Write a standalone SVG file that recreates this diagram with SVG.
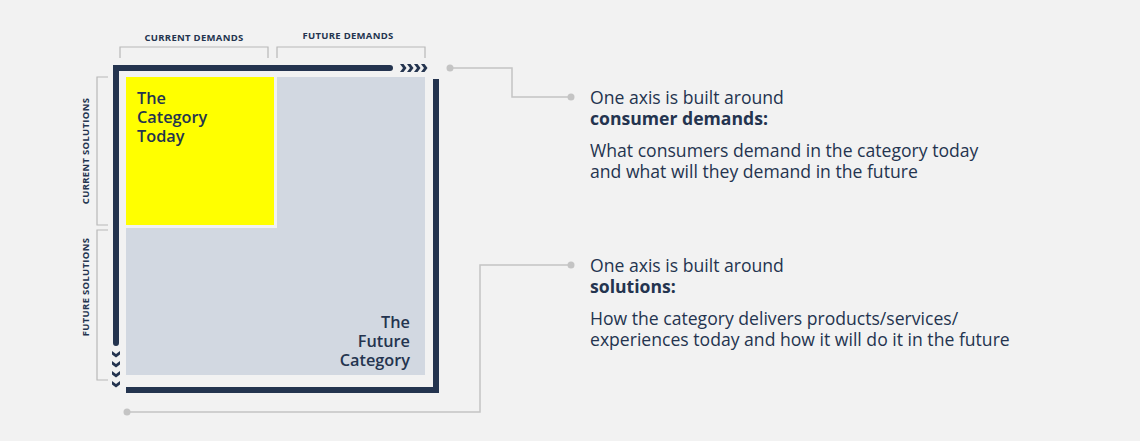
<svg xmlns="http://www.w3.org/2000/svg" width="1140" height="441" viewBox="0 0 1140 441">
<style>
text{font-family:"Open Sans","Noto Sans",sans-serif;fill:#24344f}
.lab{font-size:9.5px;font-weight:700;letter-spacing:0.3px}
.big{font-size:16.3px;font-weight:600}
.t{font-size:17.6px}
.b{font-size:17.6px;font-weight:700}
.br{fill:none;stroke:#b8b8b8;stroke-width:1.2}
.bar{fill:#24344f}
.con{fill:none;stroke:#c4c4c4;stroke-width:1.5}
.dot{fill:#c4c4c4}
</style>
<defs><path id="chr" d="M0,-4 L3.5,-4 L6.5,0 L3.5,4 L0,4 L3,0 Z" fill="#24344f"/><path id="chd" d="M-4,0 L-4,3.5 L0,6.5 L4,3.5 L4,0 L0,3 Z" fill="#24344f"/></defs>
<rect width="1140" height="441" fill="#f2f2f2"/>
<g id="matrix">
<rect x="126" y="77" width="299" height="298" fill="#d2d8e1"/>
<rect x="124.5" y="75.5" width="151" height="151" fill="#ffff00" stroke="#f2f2f2" stroke-width="3"/>
<text class="big" x="137" y="104">The</text>
<text class="big" x="137" y="123">Category</text>
<text class="big" x="137" y="142">Today</text>
<text class="big" x="410" y="328" text-anchor="end">The</text>
<text class="big" x="410" y="347" text-anchor="end">Future</text>
<text class="big" x="410" y="366" text-anchor="end">Category</text>
</g>
<g id="axes">
<path class="bar" d="M113,65 H390 a3,3 0 0 1 0,6 H119 V343 a3,3 0 0 1 -6,0 Z"/>
<use href="#chr" x="400" y="68"/><use href="#chr" x="407" y="68"/><use href="#chr" x="414" y="68"/><use href="#chr" x="421" y="68"/>
<use href="#chd" x="116" y="351"/><use href="#chd" x="116" y="361"/><use href="#chd" x="116" y="371"/><use href="#chd" x="116" y="381"/>
<path class="bar" d="M433,79 H439 V393 H126 V387 H433 Z"/>
</g>
<g id="labels">
<path class="br" d="M120,58 V47 H268 V58 M277,58 V47 H425 V58 M108,77 H97 V225 H108 M108,230 H97 V380 H108"/>
<text class="lab" x="194" y="41" text-anchor="middle">CURRENT DEMANDS</text>
<text class="lab" x="348" y="39" text-anchor="middle">FUTURE DEMANDS</text>
<text class="lab" transform="translate(89,151) rotate(-90)" text-anchor="middle">CURRENT SOLUTIONS</text>
<text class="lab" transform="translate(89,287) rotate(-90)" text-anchor="middle">FUTURE SOLUTIONS</text>
</g>
<g id="connectors">
<path class="con" d="M450,68 H512 V97 H570"/>
<circle class="dot" cx="450" cy="68" r="3.5"/><circle class="dot" cx="571" cy="97" r="3.5"/>
<path class="con" d="M127,412 H480 V265 H570"/>
<circle class="dot" cx="127" cy="412" r="3.5"/><circle class="dot" cx="571" cy="265" r="3.5"/>
</g>
<g id="note1">
<text class="t" x="590" y="104">One axis is built around</text>
<text class="b" x="590" y="125">consumer demands:</text>
<text class="t" x="590" y="157">What consumers demand in the category today</text>
<text class="t" x="590" y="178">and what will they demand in the future</text>
</g>
<g id="note2">
<text class="t" x="590" y="272">One axis is built around</text>
<text class="b" x="590" y="293">solutions:</text>
<text class="t" x="590" y="325">How the category delivers products/services/</text>
<text class="t" x="590" y="346">experiences today and how it will do it in the future</text>
</g>
</svg>
